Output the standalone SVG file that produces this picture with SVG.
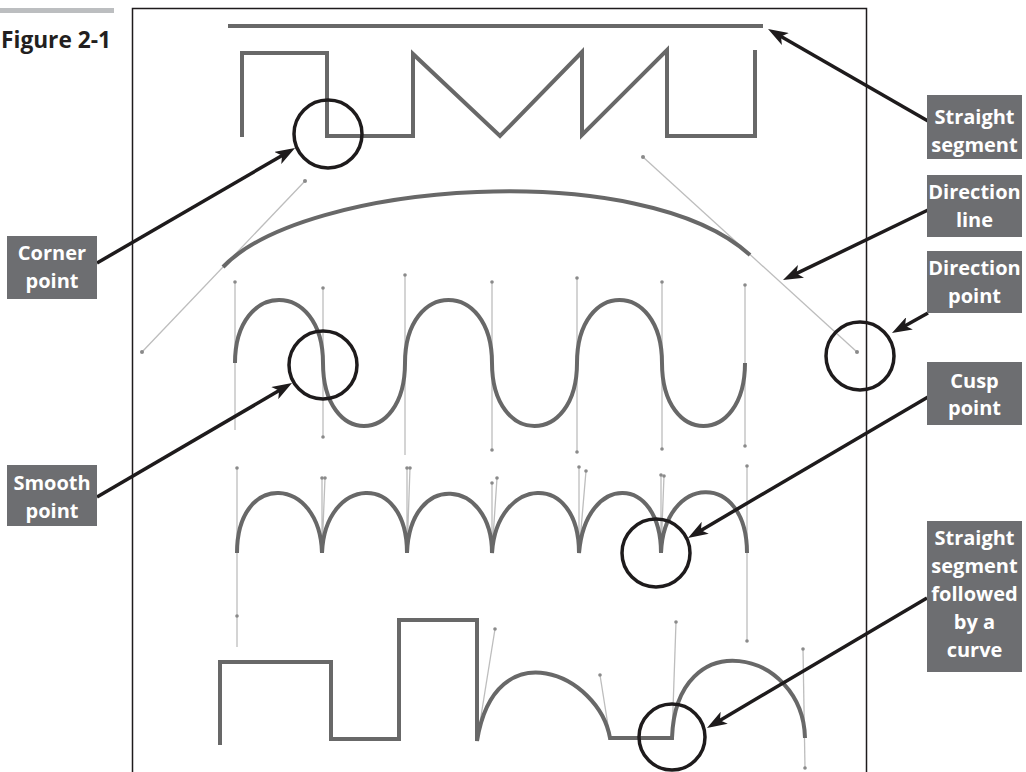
<svg xmlns="http://www.w3.org/2000/svg" width="1026" height="772" viewBox="0 0 1026 772">
<style>
.shape{fill:none;stroke:#686868;stroke-width:4;stroke-linejoin:miter}
.handle{fill:none;stroke:#bdbdbd;stroke-width:1.3}
.dot{fill:#8a8a8a}
.ring{fill:none;stroke:#1e1b1c;stroke-width:3.5}
.conn{fill:none;stroke:#1e1b1c;stroke-width:3.5;marker-end:url(#ah)}
.box{fill:#6d6e71}
.lbl{font-family:"Open Sans","Noto Sans","DejaVu Sans",sans-serif;font-weight:700;font-size:20px;fill:#ffffff;text-anchor:middle}
</style>
<defs>
<marker id="ah" viewBox="0 0 20 14" refX="10" refY="7" markerWidth="20" markerHeight="14" markerUnits="userSpaceOnUse" orient="auto">
<path d="M0,0 L20,7 L0,14 L5,7 Z" fill="#1e1b1c"/>
</marker>
</defs>
<rect x="0" y="0" width="1026" height="772" fill="#ffffff"/>
<g id="figure-title">
<rect x="0" y="8" width="114" height="5" fill="#bcbec0"/>
<text x="1" y="48" textLength="110" lengthAdjust="spacingAndGlyphs" font-family="'Open Sans','Noto Sans',sans-serif" font-weight="700" font-size="23" fill="#231f20">Figure 2-1</text>
</g>
<rect id="frame" x="132.5" y="8.5" width="734" height="790" fill="#ffffff" stroke="#1e1b1c" stroke-width="1.5"/>

<g id="row-straight">
<line class="shape" x1="228" y1="26" x2="763" y2="26"/>
<path class="shape" d="M242,137 L242,53 L327,53 L327,136 L413,136 L413,54 L500,136 L582,52 L582,135 L667,50 L667,136 L755,136 L755,50"/>
</g>

<g id="row-arc">
<line class="handle" x1="142" y1="352" x2="305" y2="181"/>
<line class="handle" x1="643" y1="157" x2="857" y2="352"/>
<circle class="dot" cx="142" cy="352" r="2"/>
<circle class="dot" cx="305" cy="181" r="2"/>
<circle class="dot" cx="643" cy="157" r="2"/>
<circle class="dot" cx="857" cy="352" r="2"/>
<path class="shape" d="M223,267 C305,181 643,157 750,255"/>
</g>

<g id="row-smooth">
<line class="handle" x1="235" y1="282" x2="235" y2="430"/>
<line class="handle" x1="323" y1="288" x2="323" y2="437"/>
<line class="handle" x1="405" y1="275" x2="405" y2="455"/>
<line class="handle" x1="492" y1="282" x2="492" y2="450"/>
<line class="handle" x1="577" y1="278" x2="577" y2="452"/>
<line class="handle" x1="662" y1="282" x2="662" y2="449"/>
<line class="handle" x1="745" y1="285" x2="745" y2="446"/>
<circle class="dot" cx="235" cy="282" r="1.8"/>
<circle class="dot" cx="323" cy="288" r="1.8"/>
<circle class="dot" cx="323" cy="437" r="1.8"/>
<circle class="dot" cx="405" cy="275" r="1.8"/>
<circle class="dot" cx="492" cy="282" r="1.8"/>
<circle class="dot" cx="492" cy="450" r="1.8"/>
<circle class="dot" cx="577" cy="278" r="1.8"/>
<circle class="dot" cx="577" cy="452" r="1.8"/>
<circle class="dot" cx="662" cy="282" r="1.8"/>
<circle class="dot" cx="662" cy="449" r="1.8"/>
<circle class="dot" cx="745" cy="285" r="1.8"/>
<circle class="dot" cx="745" cy="446" r="1.8"/>
<path class="shape" d="M235,363 C235,279 323,279 323,363 C323,447 405,447 405,363 C405,279 492,279 492,363 C492,447 577,447 577,363 C577,279 662,279 662,363 C662,447 745,447 745,363"/>
</g>

<g id="row-cusp">
<line class="handle" x1="237" y1="468" x2="237" y2="647"/>
<path class="handle" d="M322,553 L322,478 M322,553 L325,478 M407,553 L407,468 M407,553 L410,468 M492,553 L492,483 M492,553 L497,478 M579,553 L579,467 M579,553 L586,471 M661,553 L661,475 M661,553 L664,476"/>
<line class="handle" x1="747" y1="466" x2="747" y2="641"/>
<circle class="dot" cx="237" cy="468" r="1.8"/>
<circle class="dot" cx="237" cy="616" r="1.8"/>
<circle class="dot" cx="322" cy="478" r="1.8"/>
<circle class="dot" cx="325" cy="478" r="1.8"/>
<circle class="dot" cx="407" cy="468" r="1.8"/>
<circle class="dot" cx="410" cy="468" r="1.8"/>
<circle class="dot" cx="492" cy="483" r="1.8"/>
<circle class="dot" cx="497" cy="478" r="1.8"/>
<circle class="dot" cx="579" cy="467" r="1.8"/>
<circle class="dot" cx="586" cy="471" r="1.8"/>
<circle class="dot" cx="661" cy="475" r="1.8"/>
<circle class="dot" cx="664" cy="476" r="1.8"/>
<circle class="dot" cx="747" cy="466" r="1.8"/>
<circle class="dot" cx="747" cy="641" r="1.8"/>
<path class="shape" d="M237,553 C237,470 320,476 322,553 C325,476 407,470 407,553 C410,470 492,478 492,553 C497,476 579,470 579,553 C586,472 661,474 661,553 C664,474 747,470 747,553"/>
</g>

<g id="row-mixed">
<line class="handle" x1="477" y1="741" x2="495" y2="629"/>
<line class="handle" x1="610" y1="738" x2="600" y2="675"/>
<line class="handle" x1="672" y1="738" x2="676" y2="622"/>
<line class="handle" x1="803" y1="649" x2="805" y2="768"/>
<circle class="dot" cx="495" cy="629" r="1.8"/>
<circle class="dot" cx="600" cy="675" r="1.8"/>
<circle class="dot" cx="676" cy="622" r="1.8"/>
<circle class="dot" cx="803" cy="649" r="1.8"/>
<circle class="dot" cx="805" cy="768" r="1.8"/>
<path class="shape" d="M220,745 L220,662 L331,662 L331,739 L399,739 L399,620 L477,620 L477,741 C495,629 599,674 610,738 L672,738 C676,622 803,649 805,738"/>
</g>

<g id="circles">
<circle id="circle-corner" class="ring" cx="328" cy="134" r="34"/>
<circle id="circle-smooth" class="ring" cx="323" cy="365" r="34"/>
<circle id="circle-direction-point" class="ring" cx="860" cy="356" r="34"/>
<circle id="circle-cusp" class="ring" cx="656" cy="553" r="34"/>
<circle id="circle-straight-curve" class="ring" cx="672" cy="737" r="33"/>
</g>

<g id="connectors">
<line class="conn" x1="928" y1="121" x2="776.7" y2="34"/>
<line class="conn" x1="97" y1="263" x2="286.4" y2="153"/>
<line class="conn" x1="928" y1="210" x2="792" y2="275.7"/>
<line class="conn" x1="928" y1="313" x2="900.7" y2="328.2"/>
<line class="conn" x1="928" y1="397" x2="696.6" y2="532.9"/>
<line class="conn" x1="97" y1="497" x2="283.4" y2="388.1"/>
<line class="conn" x1="927" y1="598" x2="715.6" y2="722.9"/>
</g>

<g id="label-straight-segment">
<rect class="box" x="927" y="95" width="95" height="64"/>
<text class="lbl" x="974.5" y="124">Straight</text>
<text class="lbl" x="974.5" y="152">segment</text>
</g>
<g id="label-direction-line">
<rect class="box" x="927" y="175" width="95" height="62"/>
<text class="lbl" x="974.5" y="199">Direction</text>
<text class="lbl" x="974.5" y="227">line</text>
</g>
<g id="label-direction-point">
<rect class="box" x="927" y="251" width="95" height="62"/>
<text class="lbl" x="974.5" y="275">Direction</text>
<text class="lbl" x="974.5" y="303">point</text>
</g>
<g id="label-cusp-point">
<rect class="box" x="927" y="362" width="95" height="63"/>
<text class="lbl" x="974.5" y="388">Cusp</text>
<text class="lbl" x="974.5" y="415">point</text>
</g>
<g id="label-straight-followed">
<rect class="box" x="927" y="521" width="95" height="151"/>
<text class="lbl" x="974.5" y="545">Straight</text>
<text class="lbl" x="974.5" y="573">segment</text>
<text class="lbl" x="974.5" y="601">followed</text>
<text class="lbl" x="974.5" y="629">by a</text>
<text class="lbl" x="974.5" y="657">curve</text>
</g>
<g id="label-corner-point">
<rect class="box" x="7" y="236" width="90" height="63"/>
<text class="lbl" x="52" y="260">Corner</text>
<text class="lbl" x="52" y="288">point</text>
</g>
<g id="label-smooth-point">
<rect class="box" x="7" y="465" width="90" height="61"/>
<text class="lbl" x="52" y="490">Smooth</text>
<text class="lbl" x="52" y="518">point</text>
</g>
</svg>
